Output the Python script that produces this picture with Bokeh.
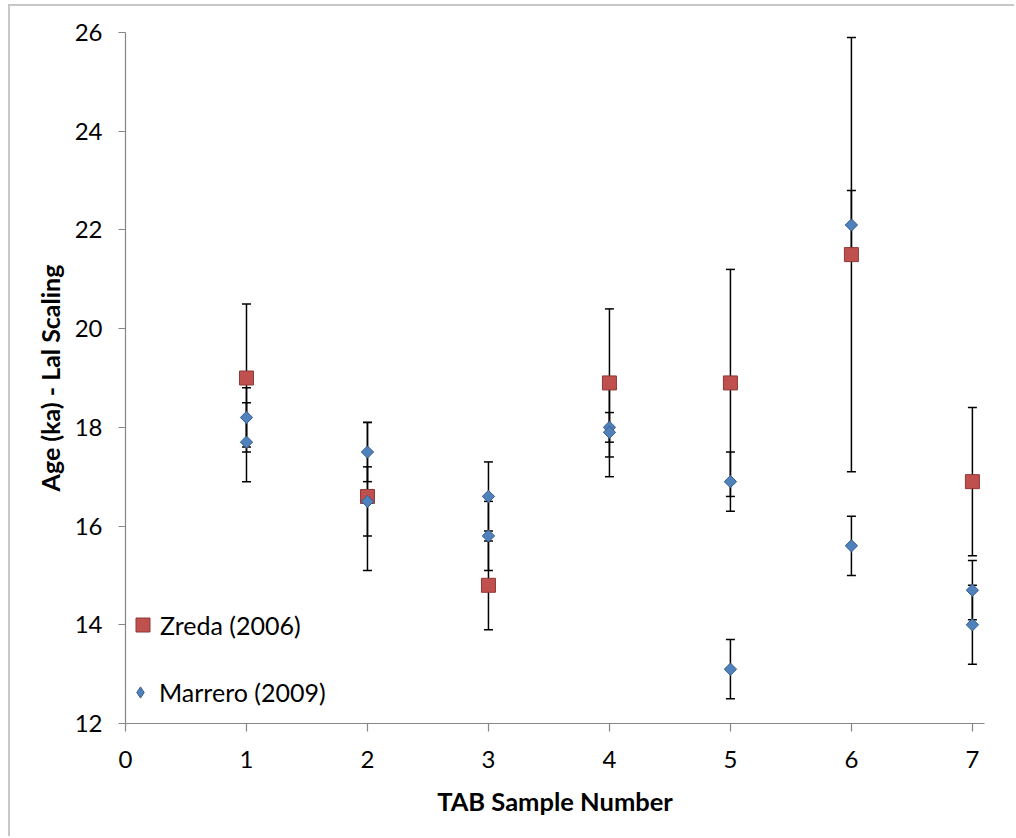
import math
from bokeh.plotting import figure
from bokeh.models import ColumnDataSource, FixedTicker, Range1d, Legend, LegendItem
from bokeh.embed import file_html
from bokeh.resources import INLINE

# ---- data ----
samples = [1, 2, 3, 4, 5, 6, 7]
zreda_age = [19.0, 16.6, 14.8, 18.9, 18.9, 21.5, 16.9]
zreda_err = [1.5, 1.5, 0.9, 1.5, 2.3, 4.4, 1.5]

marrero_sample = [1, 1, 2, 2, 3, 3, 4, 4, 5, 5, 6, 6, 7, 7]
marrero_age = [18.2, 17.7, 17.5, 16.5, 16.6, 15.8, 18.0, 17.9, 16.9, 13.1, 22.1, 15.6, 14.7, 14.0]
marrero_err = [0.6, 0.8, 0.6, 0.7, 0.7, 0.7, 0.3, 0.9, 0.6, 0.6, 0.7, 0.6, 0.6, 0.8]

x_ticks = [0, 1, 2, 3, 4, 5, 6, 7]
y_ticks = [12, 14, 16, 18, 20, 22, 24, 26]

x_title = "TAB Sample Number"
y_title = "Age (ka) - Lal Scaling"
zreda_label = "Zreda (2006)"
marrero_label = "Marrero (2009)"

z_src = ColumnDataSource(dict(
    x=samples, y=zreda_age,
    lo=[a - e for a, e in zip(zreda_age, zreda_err)],
    hi=[a + e for a, e in zip(zreda_age, zreda_err)],
))
m_src = ColumnDataSource(dict(
    x=marrero_sample, y=marrero_age,
    lo=[a - e for a, e in zip(marrero_age, marrero_err)],
    hi=[a + e for a, e in zip(marrero_age, marrero_err)],
))

FONT = "Lato"
AXIS_GRAY = "#868686"

p = figure(width=1006, height=832, output_backend="svg", toolbar_location=None,
           x_range=Range1d(0, 7.1), y_range=Range1d(12, 26),
           min_border_left=115, min_border_right=32,
           min_border_top=26, min_border_bottom=115)
p.margin = (4, 0, 0, 8)
p.styles = {"border-left": "2px solid #C8C8C8", "border-top": "2px solid #C8C8C8"}
p.grid.visible = False
p.outline_line_color = None
p.background_fill_color = "white"
p.border_fill_color = "white"

# error bars
for src in (z_src, m_src):
    p.segment(x0="x", y0="lo", x1="x", y1="hi", source=src,
              line_color="black", line_width=1.5)
    p.scatter(x="x", y="lo", source=src, marker="dash", size=9,
              line_color="black", line_width=1.5)
    p.scatter(x="x", y="hi", source=src, marker="dash", size=9,
              line_color="black", line_width=1.5)

zr = p.scatter(x="x", y="y", source=z_src, marker="square", size=14,
               fill_color="#C0504D", line_color="#8C3A38", line_width=1)
mr = p.scatter(x="x", y="y", source=m_src, marker="square", angle=math.pi / 4,
               size=8.7, fill_color="#4F81BD", line_color="#385D8A", line_width=1)

# hidden renderer used only for the diamond legend swatch
m_proxy = p.scatter(x="x", y="y", source=m_src, marker="diamond", size=12,
                    fill_color="#4F81BD", line_color="#385D8A", line_width=1,
                    visible=False)

# axes
for ax in (p.xaxis[0], p.yaxis[0]):
    ax.axis_line_color = AXIS_GRAY
    ax.axis_line_width = 1.2
    ax.major_tick_line_color = AXIS_GRAY
    ax.major_tick_line_width = 1.2
    ax.minor_tick_line_color = None
    ax.major_tick_in = 0
    ax.major_label_text_font = FONT
    ax.major_label_text_font_size = "24px"
    ax.major_label_text_color = "black"
    ax.axis_label_text_font = FONT
    ax.axis_label_text_font_style = "bold"
    ax.axis_label_text_color = "black"

p.xaxis.ticker = FixedTicker(ticks=x_ticks)
p.yaxis.ticker = FixedTicker(ticks=y_ticks)
p.xaxis.major_tick_out = 8
p.yaxis.major_tick_out = 7
p.xaxis.major_label_standoff = 19
p.yaxis.major_label_standoff = 16
p.xaxis.axis_label = x_title
p.yaxis.axis_label = y_title
p.xaxis.axis_label_text_font_size = "25.5px"
p.yaxis.axis_label_text_font_size = "25px"
p.xaxis.axis_label_standoff = 15
p.yaxis.axis_label_standoff = 7

leg_z = Legend(items=[LegendItem(label=zreda_label, renderers=[zr])],
               location=(0, 81), glyph_width=35, glyph_height=35,
               label_standoff=0)
leg_m = Legend(items=[LegendItem(label=marrero_label, renderers=[m_proxy])],
               location=(1, 16), glyph_width=28, glyph_height=30,
               label_standoff=5)
for lg in (leg_z, leg_m):
    lg.label_text_font = FONT
    lg.label_text_font_size = "25px"
    lg.label_text_color = "black"
    lg.background_fill_alpha = 0
    lg.border_line_color = None
    lg.padding = 0
    lg.margin = 0
    lg.spacing = 0
    lg.click_policy = "none"
    p.add_layout(lg, "center")

open("out.html", "w").write(file_html(p, INLINE))
